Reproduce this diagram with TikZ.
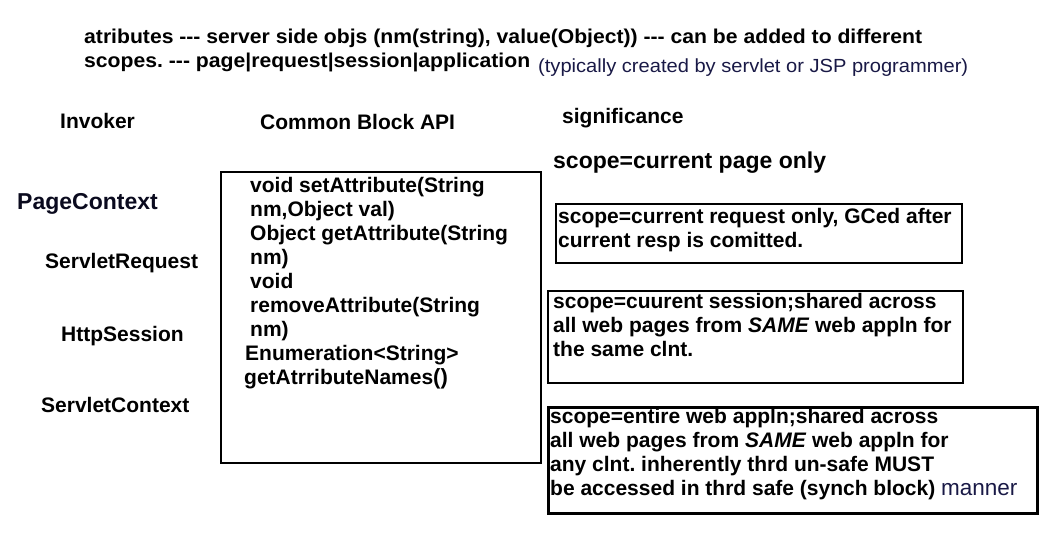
\documentclass[tikz,border=0pt]{standalone}
\usepackage{fontspec}
\setmainfont{Liberation Sans}[Ligatures=TeXOff]
\usepackage{graphicx}
\frenchspacing
\definecolor{navy}{RGB}{25,25,70}
\definecolor{ink}{RGB}{10,10,30}
\tikzset{
  txt/.style={anchor=base west, inner sep=0pt, font=\fontsize{21}{24}\selectfont\bfseries},
  big/.style={txt, font=\fontsize{23}{26}\selectfont\bfseries},
  boxframe/.style={draw=black, line width=2pt, anchor=north west, inner sep=0pt, fill=none},
}
\begin{document}
\begin{tikzpicture}[x=1pt,y=-1pt]
\useasboundingbox (0,0) rectangle (1058,541);
% title
\node[txt] (t1) at (84,43) {\fontsize{20}{22}\selectfont\resizebox{838pt}{\height}{atributes --- server side objs (nm(string), value(Object)) --- can be added to different}};
\node[txt] (t2) at (84,67) {\fontsize{20}{22}\selectfont\resizebox{446pt}{\height}{scopes. --- page|request|session|application}};
\node[txt, text=navy] (t3) at (538,72) {\fontsize{19}{22}\selectfont\mdseries\resizebox{430pt}{\height}{(typically created by servlet or JSP programmer)}};
% headers
\node[txt] (hinv) at (60,128) {Invoker};
\node[txt] (hapi) at (260,129) {Common Block API};
\node[txt] (hsig) at (562,123) {significance};
% invokers
\node[big, text=ink] (pc) at (17,209) {PageContext};
\node[txt] (sr) at (45,268) {ServletRequest};
\node[txt] (hs) at (61,341) {HttpSession};
\node[txt] (sc) at (41,412) {ServletContext};
% API box
\node[boxframe, minimum width=320pt, minimum height=291pt] (api) at (220,171) {};
\node[txt] (a1) at (250,192) {void setAttribute(String};
\node[txt] (a2) at (250,216) {nm,Object val)};
\node[txt] (a3) at (250,240) {Object getAttribute(String};
\node[txt] (a4) at (250,264) {nm)};
\node[txt] (a5) at (250,288) {void};
\node[txt] (a6) at (250,312) {removeAttribute(String};
\node[txt] (a7) at (250,336) {nm)};
\node[txt] (a8) at (245,360) {Enumeration<String>};
\node[txt] (a9) at (244,384) {getAtrributeNames{\fontsize{22}{24}\selectfont()}};
% significance
\node[big] (s0) at (553,168) {scope=current page only};
\node[boxframe, minimum width=406pt, minimum height=59pt] (bA) at (555,203) {};
\node[txt] (sA1) at (558,223) {scope=current request only, GCed after};
\node[txt] (sA2) at (558,247) {current resp is comitted.};
\node[boxframe, minimum width=415pt, minimum height=92pt] (bB) at (547,290) {};
\node[txt] (sB1) at (553,308) {scope=cuurent session;shared across};
\node[txt] (sB2) at (553,332) {all web pages from \textit{SAME} web appln for};
\node[txt] (sB3) at (553,356) {the same clnt.};
\node[boxframe, line width=3pt, minimum width=489pt, minimum height=106pt] (bC) at (547,406) {};
\node[txt] (sC1) at (550,423) {scope=entire web appln;shared across};
\node[txt] (sC2) at (550,447) {all web pages from \textit{SAME} web appln for};
\node[txt] (sC3) at (550,471) {any clnt. inherently thrd un-safe MUST};
\node[txt] (sC4) at (550,495) {be accessed in thrd safe (synch block) {\fontsize{22.5}{24}\selectfont\mdseries\color{navy}manner}};
\end{tikzpicture}
\end{document}
